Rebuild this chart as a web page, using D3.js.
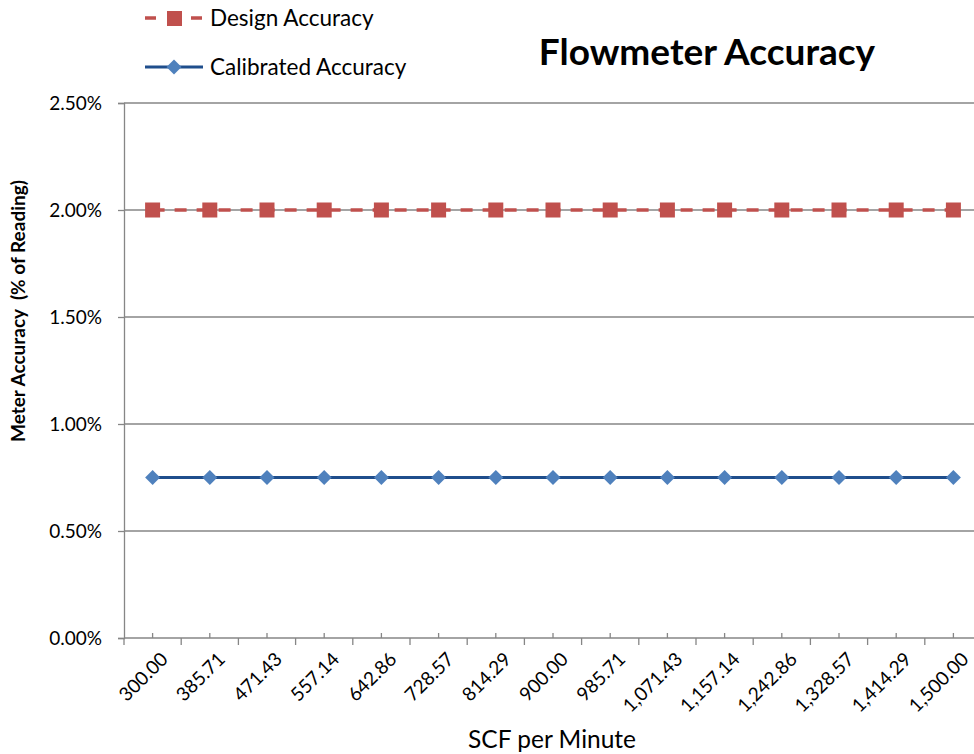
<!DOCTYPE html>
<html><head><meta charset="utf-8">
<script src="https://cdn.jsdelivr.net/npm/d3@7"></script>
<style>
body{margin:0;background:#fff;}
text{font-family:Lato,"Open Sans",sans-serif;fill:#000;}
</style></head>
<body><svg id="c" width="974" height="754"></svg>
<script>
const categories = ["300.00","385.71","471.43","557.14","642.86","728.57","814.29","900.00","985.71","1,071.43","1,157.14","1,242.86","1,328.57","1,414.29","1,500.00"];
const designAccuracy = [0.02,0.02,0.02,0.02,0.02,0.02,0.02,0.02,0.02,0.02,0.02,0.02,0.02,0.02,0.02];
const calibratedAccuracy = [0.0075,0.0075,0.0075,0.0075,0.0075,0.0075,0.0075,0.0075,0.0075,0.0075,0.0075,0.0075,0.0075,0.0075,0.0075];
const yTicks = [0,0.005,0.01,0.015,0.02,0.025];

(function(){
const svg = d3.select("#c");
const pLeft = 124, pTop = 103, pBottom = 638, bandW = 57.2;
const pRight = pLeft + bandW*categories.length;
const x = d3.scaleBand().domain(categories).range([pLeft,pRight]).padding(0);
const y = d3.scaleLinear().domain([0,0.025]).range([pBottom,pTop]);
const fmt = d3.format(".2%");

// gridlines
svg.append("g").selectAll("line").data(yTicks.filter(d=>d>0)).join("line")
  .attr("x1",pLeft).attr("x2",974).attr("y1",d=>y(d)).attr("y2",d=>y(d))
  .attr("stroke","#868686").attr("stroke-width",1.3);

// y axis
const ya = svg.append("g").attr("transform",`translate(${pLeft},0)`)
  .call(d3.axisLeft(y).tickValues(yTicks).tickFormat(fmt).tickSize(6).tickPadding(16));
ya.select(".domain").attr("stroke","#868686").attr("stroke-width",1.3);
ya.selectAll(".tick line").attr("stroke","#868686").attr("stroke-width",1.3);
ya.selectAll("text").attr("font-size",19).attr("font-family","Lato").attr("fill","#000");

// x axis
const xa = svg.append("g");
xa.append("line").attr("x1",pLeft).attr("x2",974).attr("y1",pBottom).attr("y2",pBottom)
  .attr("stroke","#868686").attr("stroke-width",1.3);
const bounds = categories.map(c=>x(c)).concat([pRight]);
xa.selectAll("line.maj").data(bounds).join("line").attr("class","maj")
  .attr("x1",d=>d).attr("x2",d=>d).attr("y1",pBottom).attr("y2",pBottom+7)
  .attr("stroke","#868686").attr("stroke-width",1.3);
xa.selectAll("line.min").data(categories).join("line").attr("class","min")
  .attr("x1",d=>x(d)+x.bandwidth()/2).attr("x2",d=>x(d)+x.bandwidth()/2)
  .attr("y1",pBottom-5).attr("y2",pBottom)
  .attr("stroke","#868686").attr("stroke-width",1.3);
xa.selectAll("text").data(categories).join("text")
  .attr("transform",d=>`translate(${x(d)+x.bandwidth()/2+7},${pBottom+13}) rotate(-45)`)
  .attr("text-anchor","end").attr("dy","0.7em").attr("font-size",19).text(d=>d);

// series
const cx = (d,i)=>x(categories[i])+x.bandwidth()/2;
const line = d3.line().x(cx).y(d=>y(d));
svg.append("path").datum(designAccuracy).attr("d",line).attr("fill","none")
  .attr("stroke","#C0504D").attr("stroke-width",3.5).attr("stroke-dasharray","12,10");
svg.append("g").selectAll("rect").data(designAccuracy).join("rect")
  .attr("x",(d,i)=>cx(d,i)-7.5).attr("y",d=>y(d)-7.5).attr("width",15).attr("height",15)
  .attr("fill","#C0504D");
svg.append("path").datum(calibratedAccuracy).attr("d",line).attr("fill","none")
  .attr("stroke","#1F4E8C").attr("stroke-width",3.2);
svg.append("g").selectAll("path").data(calibratedAccuracy).join("path")
  .attr("d",d3.symbol().type(d3.symbolSquare).size(112))
  .attr("transform",(d,i)=>`translate(${cx(d,i)},${y(d)}) rotate(45)`)
  .attr("fill","#4F81BD");

// legend
const lg = svg.append("g");
lg.append("line").attr("x1",145).attr("x2",203).attr("y1",18).attr("y2",18)
  .attr("stroke","#C0504D").attr("stroke-width",3.5).attr("stroke-dasharray","11,12");
lg.append("rect").attr("x",167).attr("y",11).attr("width",15).attr("height",15).attr("fill","#C0504D");
lg.append("text").attr("x",210).attr("y",26).attr("font-size",22.5).text("Design Accuracy");
lg.append("line").attr("x1",145).attr("x2",203).attr("y1",67).attr("y2",67)
  .attr("stroke","#1F4E8C").attr("stroke-width",3.2);
lg.append("path").attr("d",d3.symbol().type(d3.symbolSquare).size(112)())
  .attr("transform","translate(174,67) rotate(45)").attr("fill","#4F81BD");
lg.append("text").attr("x",210).attr("y",75).attr("font-size",22.5).text("Calibrated Accuracy");

// titles
svg.append("text").attr("x",707).attr("y",65).attr("text-anchor","middle")
  .attr("font-size",37).attr("font-weight","bold").text("Flowmeter Accuracy");
svg.append("text").attr("x",552).attr("y",748).attr("text-anchor","middle")
  .attr("font-size",24.5).text("SCF per Minute");
svg.append("text").attr("transform","translate(25,311) rotate(-90)").attr("text-anchor","middle")
  .attr("font-size",19).attr("font-weight","bold").text("Meter Accuracy\u00A0\u00A0(% of Reading)");
})();
</script></body></html>
